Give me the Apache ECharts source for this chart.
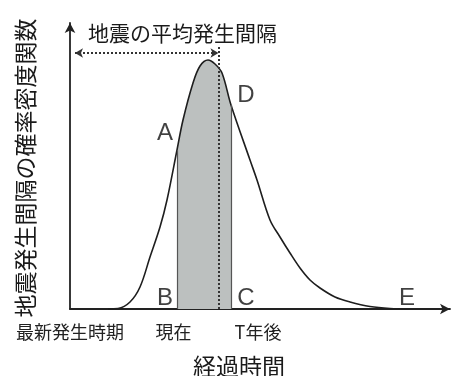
<!DOCTYPE html>
<html>
<head>
<meta charset="utf-8">
<script src="https://cdn.jsdelivr.net/npm/echarts@6/dist/echarts.min.js"></script>
<style>
html,body{margin:0;padding:0;background:#fff;}
#c{width:451px;height:376px;}
</style>
</head>
<body>
<div id="c"></div>
<script>
// Probability density curve (elapsed time units vs density units)
const curveX = [3.8, 4.8, 6.0, 7.0, 8.0, 9.0, 9.7, 10.7, 11.3, 12.3, 13.0, 13.8, 14.5, 15.2, 16.1, 18.0, 18.7, 20.0, 21.0, 22.0, 23.0, 24.0, 25.0, 26.5, 28.0, 30.0, 32.0, 34.0];
const curveY = [0, 0.05, 0.7, 2.2, 5.2, 8.2, 10.9, 15.9, 18.9, 22.6, 24.3, 24.9, 24.5, 23.6, 20.4, 14.9, 12.9, 8.9, 7.2, 5.6, 4.1, 2.9, 2.1, 1.2, 0.7, 0.25, 0.05, 0];
// shaded interval: 現在 (B) to T年後 (C)
const shadeRange = [10.7, 16.1];
// mean recurrence interval
const meanX = 14.85;
const meanTop = 26.4;
const arrowY = 25.6;
const arrowStart = 0.5;
// tick labels on the time axis
const tickLabels = ['最新発生時期', '現在', 'T年後'];
const tickPos = [0, 10.35, 18.8];
// point letters
const pointNames = ['A', 'B', 'C', 'D', 'E'];
const pointX = [9.5, 9.5, 17.6, 17.6, 33.7];
const pointY = [17.6, 1.1, 1.1, 21.4, 1.1];

const curve = curveX.map((x, i) => [x, curveY[i]]);
const shade = curve.filter(p => p[0] >= shadeRange[0] && p[0] <= shadeRange[1]);
const yAt = x => curveY[curveX.indexOf(x)];

const chart = echarts.init(document.getElementById('c'));
const cjk = '"Noto Sans CJK JP", sans-serif';
chart.setOption({
  animation: false,
  grid: {left: 70, right: 1, top: 23, bottom: 67},
  xAxis: {
    type: 'value', min: 0, max: 38,
    splitLine: {show: false},
    axisTick: {show: false},
    axisLine: {show: true, symbol: ['none', 'arrow'], symbolSize: [8, 10], lineStyle: {color: '#222', width: 1.8}},
    axisLabel: {
      customValues: tickPos,
      formatter: v => tickLabels[tickPos.indexOf(v)] || '',
      fontSize: 18, fontFamily: cjk, color: '#222', margin: 14
    }
  },
  yAxis: {
    type: 'value', min: 0, max: 28.6,
    splitLine: {show: false},
    axisTick: {show: false},
    axisLabel: {show: false},
    axisLine: {show: true, symbol: ['none', 'arrow'], symbolSize: [8, 10], lineStyle: {color: '#222', width: 1.8}}
  },
  series: [
    {
      type: 'line', data: shade, smooth: 0.35, symbol: 'none', z: 1,
      lineStyle: {width: 0},
      areaStyle: {color: '#bcc0bf', opacity: 1},
      markLine: {
        silent: true, symbol: 'none', label: {show: false},
        lineStyle: {type: 'solid', color: '#555', width: 1.2},
        data: [
          [{coord: [shadeRange[0], 0]}, {coord: [shadeRange[0], yAt(shadeRange[0])]}],
          [{coord: [shadeRange[1], 0]}, {coord: [shadeRange[1], yAt(shadeRange[1])]}]
        ]
      }
    },
    {
      type: 'line', data: curve, smooth: 0.35, symbol: 'none', z: 3,
      lineStyle: {color: '#1e1e1e', width: 1.6}
    },
    {
      type: 'line', data: [], z: 4,
      markLine: {
        silent: true, label: {show: false},
        data: [
          [{coord: [meanX, 0], symbol: 'none', lineStyle: {type: [2, 2], color: '#333', width: 2}},
           {coord: [meanX, meanTop], symbol: 'none'}],
          [{coord: [arrowStart, arrowY], symbol: 'arrow', symbolSize: [7, 8], lineStyle: {type: [2, 2], color: '#333', width: 2}},
           {coord: [meanX, arrowY], symbol: 'arrow', symbolSize: [7, 8]}]
        ]
      }
    },
    {
      type: 'scatter', symbolSize: 0, z: 5, clip: false,
      data: pointNames.map((n, i) => ({name: n, value: [pointX[i], pointY[i]]})),
      label: {show: true, position: 'inside', formatter: p => p.name, fontSize: 24, fontFamily: '"Liberation Sans", Arial, sans-serif', color: '#111'}
    }
  ],
  graphic: [
    {type: 'text', x: 88, y: 33, style: {text: '地震の平均発生間隔', font: '21px ' + cjk, fill: '#1a1a1a', textVerticalAlign: 'middle'}},
    {type: 'text', x: 25, y: 168, rotation: Math.PI / 2, style: {text: '地震発生間隔の確率密度関数', font: '23px ' + cjk, fill: '#1a1a1a', textAlign: 'center', textVerticalAlign: 'middle'}},
    {type: 'text', x: 239, y: 366, style: {text: '経過時間', font: '23px ' + cjk, fill: '#1a1a1a', textAlign: 'center', textVerticalAlign: 'middle'}}
  ]
});
</script>
</body>
</html>
